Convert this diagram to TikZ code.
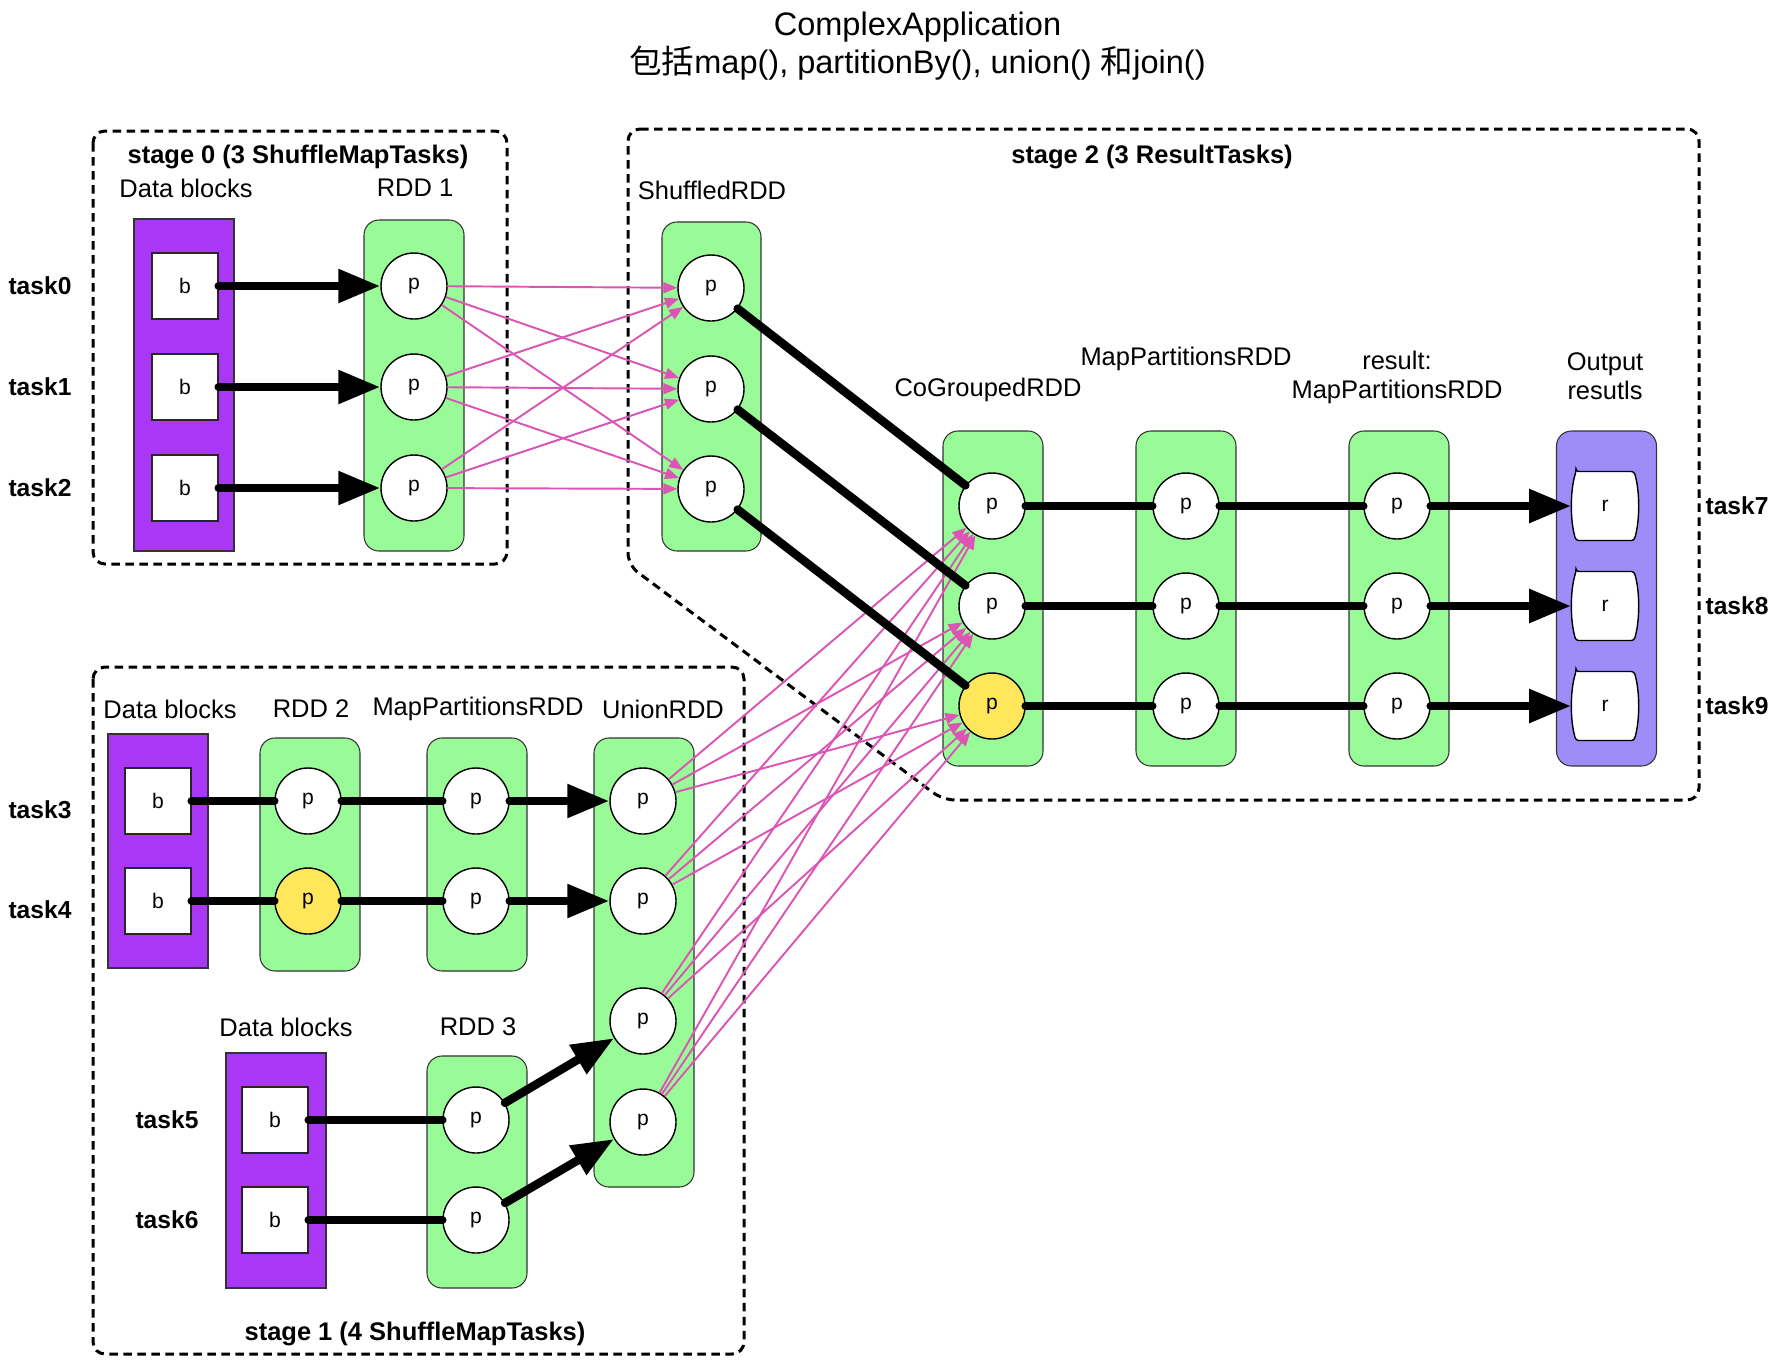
\documentclass[tikz,border=0pt]{standalone}
\usepackage{fontspec}
\setmainfont{Liberation Sans}
\newfontfamily\cjk{Noto Sans CJK SC}
\usetikzlibrary{arrows.meta}
\definecolor{BlockPurple}{RGB}{170,55,245}
\definecolor{RddGreen}{RGB}{152,251,152}
\definecolor{OutLavender}{RGB}{158,140,248}
\definecolor{HotYellow}{RGB}{255,230,90}
\definecolor{ShufPink}{RGB}{220,85,180}

\begin{document}
\begin{tikzpicture}[
        stagebox/.style={draw=black,line width=0.06cm,dash pattern=on 0.17cm off 0.11cm,
                         rounded corners=0.24cm},
        blockbox/.style={draw=black!80,fill=BlockPurple,line width=0.6pt,
                         minimum width=2cm,inner sep=0pt},
        rddbox/.style={draw=black!80,fill=RddGreen,line width=0.6pt,rounded corners=0.3cm,
                       minimum width=2cm,inner sep=0pt},
        outbox/.style={rddbox,fill=OutLavender},
        bnode/.style={draw=black!85,fill=white,line width=0.8pt,minimum size=1.32cm,
                      inner sep=0pt,font=\fontsize{12}{14}\selectfont},
        pnode/.style={circle,draw=black,fill=white,line width=0.8pt,minimum size=1.32cm,
                      inner sep=0pt,font=\fontsize{12}{14}\selectfont},
        hotnode/.style={pnode,fill=HotYellow},
        rnode/.style={minimum width=1.34cm,minimum height=1.38cm,inner sep=0pt,
                      font=\fontsize{12}{14}\selectfont},
        barrel/.style={draw=black,fill=white,line width=0.8pt,rounded corners=1.5pt},
        lbl/.style={font=\fontsize{14.5}{16.5}\selectfont,align=center},
        stagelbl/.style={font=\fontsize{14.5}{17}\selectfont\bfseries},
        tasklbl/.style={font=\fontsize{14}{16}\selectfont\bfseries},
        thickline/.style={draw=black,line width=0.17cm,line cap=round},
        thickarr/.style={thickline,-{Triangle[length=0.84cm,width=0.64cm]}},
        shufarr/.style={draw=ShufPink,line width=1.1pt,-{Triangle[length=0.28cm,width=0.22cm]}}
      ]
        \useasboundingbox (0,0) rectangle (35.6,-27.24);
        \node[font=\fontsize{18.5}{22}\selectfont,align=center] (title) at (18.35,-0.92)
          {ComplexApplication\\{\cjk 包括}map(), partitionBy(), union() {\cjk 和}join()};
        % stage borders
        \draw[stagebox] (1.86,-2.62) rectangle (10.14,-11.28);
        \draw[stagebox] (1.86,-13.34) rectangle (14.88,-27.08);
        \draw[stagebox] (12.56,-2.58) -- (33.98,-2.58) -- (33.98,-16) -- (18.86,-16)
          -- (12.56,-11.3) -- cycle;
        \node[stagelbl] (st0) at (5.96,-3.14) {stage 0 (3 ShuffleMapTasks)};
        \node[stagelbl] (st1) at (8.3,-26.68) {stage 1 (4 ShuffleMapTasks)};
        \node[stagelbl] (st2) at (23.04,-3.14) {stage 2 (3 ResultTasks)};
        % column labels
        \node[lbl] (ldb0) at (3.72,-3.76) {Data blocks};
        \node[lbl] (lrdd1) at (8.3,-3.76) {RDD 1};
        \node[lbl] (lshuf) at (14.24,-3.8) {ShuffledRDD};
        \node[lbl] (lcogr) at (19.76,-7.8) {CoGroupedRDD};
        \node[lbl] (lmap) at (23.72,-7.18) {MapPartitionsRDD};
        \node[lbl] (lres) at (27.94,-7.55) {result:\\MapPartitionsRDD};
        \node[lbl] (lout) at (32.1,-7.53) {Output\\resutls};
        \node[lbl] (ldb2) at (3.4,-14.18) {Data blocks};
        \node[lbl] (lrdd2) at (6.22,-14.18) {RDD 2};
        \node[lbl] (lmap2) at (9.56,-14.18) {MapPartitionsRDD};
        \node[lbl] (lunion) at (13.26,-14.18) {UnionRDD};
        \node[lbl] (ldb3) at (5.72,-20.54) {Data blocks};
        \node[lbl] (lrdd3) at (9.56,-20.54) {RDD 3};
        % containers
        \node[blockbox,minimum height=6.64cm] (blk0) at (3.68,-7.70) {};
        \node[rddbox,minimum height=6.62cm] (rdd1) at (8.28,-7.71) {};
        \node[rddbox,minimum height=6.58cm,minimum width=1.98cm] (shuf) at (14.23,-7.73) {};
        \node[rddbox,minimum height=6.7cm] (cogr) at (19.86,-11.97) {};
        \node[rddbox,minimum height=6.7cm] (mapp) at (23.72,-11.97) {};
        \node[rddbox,minimum height=6.7cm] (resm) at (27.98,-11.97) {};
        \node[outbox,minimum height=6.7cm] (outp) at (32.13,-11.97) {};
        \node[blockbox,minimum height=4.68cm] (blk2) at (3.16,-17.02) {};
        \node[rddbox,minimum height=4.66cm] (rdd2) at (6.2,-17.09) {};
        \node[rddbox,minimum height=4.66cm] (map2) at (9.54,-17.09) {};
        \node[rddbox,minimum height=8.98cm] (unio) at (12.88,-19.25) {};
        \node[blockbox,minimum height=4.7cm] (blk3) at (5.52,-23.41) {};
        \node[rddbox,minimum height=4.64cm] (rdd3) at (9.54,-23.44) {};
        % stage 0 and stage 2 rows
        \node[bnode] (b01) at (3.7,-5.72) {b};
        \node[bnode] (b02) at (3.7,-7.74) {b};
        \node[bnode] (b03) at (3.7,-9.76) {b};
        \node[pnode] (p11) at (8.28,-5.72) {p};
        \node[pnode] (p12) at (8.28,-7.74) {p};
        \node[pnode] (p13) at (8.28,-9.76) {p};
        \node[pnode] (sh1) at (14.22,-5.76) {p};
        \node[pnode] (sh2) at (14.22,-7.78) {p};
        \node[pnode] (sh3) at (14.22,-9.78) {p};
        \node[pnode] (cg1) at (19.84,-10.12) {p};
        \node[pnode] (cg2) at (19.84,-12.12) {p};
        \node[hotnode] (cg3) at (19.84,-14.12) {p};
        \node[pnode] (mp1) at (23.72,-10.12) {p};
        \node[pnode] (mp2) at (23.72,-12.12) {p};
        \node[pnode] (mp3) at (23.72,-14.12) {p};
        \node[pnode] (rs1) at (27.94,-10.12) {p};
        \node[pnode] (rs2) at (27.94,-12.12) {p};
        \node[pnode] (rs3) at (27.94,-14.12) {p};
        \foreach \y [count=\i] in {-10.12,-12.12,-14.12} {
          \draw[barrel] (31.52,\y+0.69) -- (32.68,\y+0.69)
            .. controls (32.8,\y+0.3) and (32.8,\y-0.3) .. (32.68,\y-0.69)
            -- (31.52,\y-0.69)
            .. controls (31.4,\y-0.3) and (31.4,\y+0.3) .. (31.52,\y+0.69) -- cycle;
          \node[rnode] (out\i) at (32.1,\y) {r};
        }
        % stage 1 rows
        \node[bnode] (b21) at (3.16,-16.02) {b};
        \node[bnode] (b22) at (3.16,-18.02) {b};
        \node[pnode] (p21) at (6.16,-16.02) {p};
        \node[hotnode] (p22) at (6.16,-18.02) {p};
        \node[pnode] (mq1) at (9.52,-16.02) {p};
        \node[pnode] (mq2) at (9.52,-18.02) {p};
        \node[pnode] (un1) at (12.86,-16.02) {p};
        \node[pnode] (un2) at (12.86,-18.02) {p};
        \node[pnode] (un3) at (12.86,-20.42) {p};
        \node[pnode] (un4) at (12.86,-22.44) {p};
        \node[bnode] (b31) at (5.5,-22.4) {b};
        \node[bnode] (b32) at (5.5,-24.4) {b};
        \node[pnode] (p31) at (9.52,-22.4) {p};
        \node[pnode] (p32) at (9.52,-24.4) {p};
        % task labels
        \node[tasklbl] (t0) at (0.8,-5.72) {task0};
        \node[tasklbl] (t1) at (0.8,-7.74) {task1};
        \node[tasklbl] (t2) at (0.8,-9.76) {task2};
        \node[tasklbl] (t3) at (0.8,-16.2) {task3};
        \node[tasklbl] (t4) at (0.8,-18.2) {task4};
        \node[tasklbl] (t5) at (3.34,-22.4) {task5};
        \node[tasklbl] (t6) at (3.34,-24.4) {task6};
        \node[tasklbl] (t7) at (34.74,-10.12) {task7};
        \node[tasklbl] (t8) at (34.74,-12.12) {task8};
        \node[tasklbl] (t9) at (34.74,-14.12) {task9};
        % shuffle dependencies
        \foreach \i in {1,2,3} \foreach \j in {1,2,3} \draw[shufarr] (p1\i) -- (sh\j);
        \foreach \i in {1,...,4} \foreach \j in {1,2,3} \draw[shufarr] (un\i) -- (cg\j);
        % narrow dependencies
        \foreach \i in {1,2,3} {
          \draw[thickarr] (b0\i) -- (p1\i);
          \draw[thickline] (sh\i) -- (cg\i);
          \draw[thickline] (cg\i) -- (mp\i);
          \draw[thickline] (mp\i) -- (rs\i);
          \draw[thickarr] (rs\i) -- (out\i);
        }
        \draw[thickline] (b21) -- (p21); \draw[thickline] (p21) -- (mq1); \draw[thickarr] (mq1) -- (un1);
        \draw[thickline] (b22) -- (p22); \draw[thickline] (p22) -- (mq2); \draw[thickarr] (mq2) -- (un2);
        \draw[thickline] (b31) -- (p31); \draw[thickarr] (p31) -- (un3);
        \draw[thickline] (b32) -- (p32); \draw[thickarr] (p32) -- (un4);
\end{tikzpicture}
\end{document}
